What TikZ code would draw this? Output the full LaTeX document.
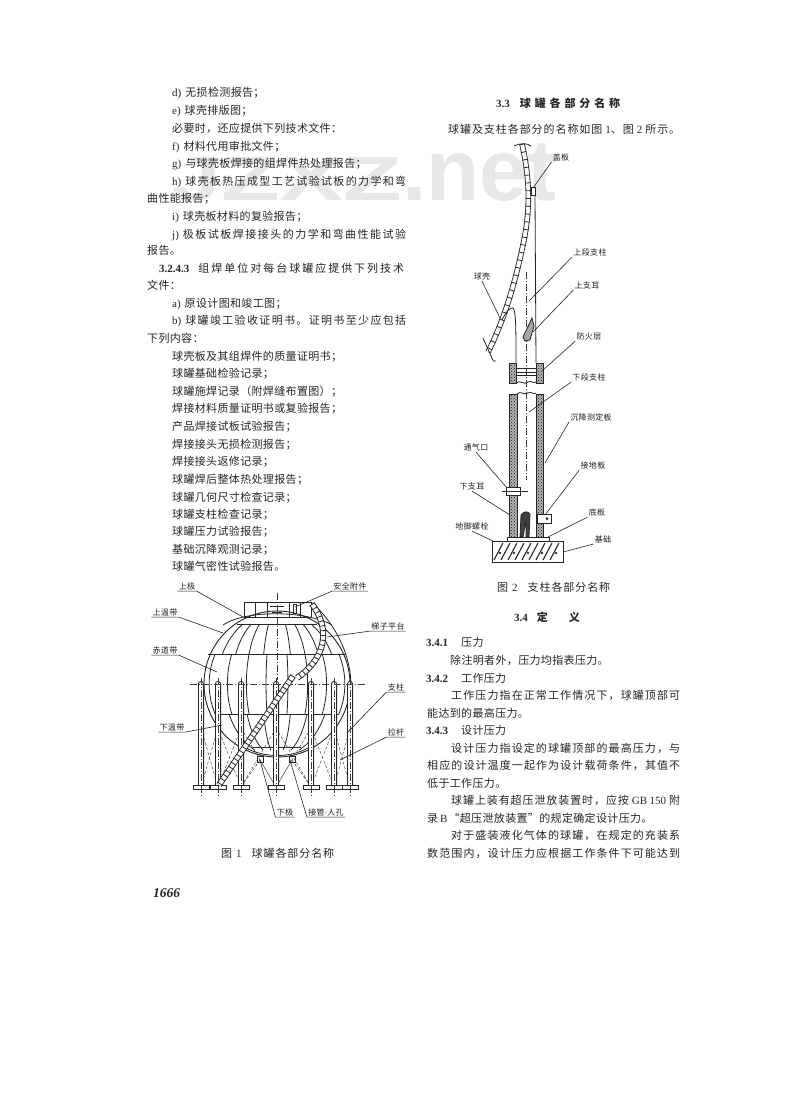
\documentclass[tikz,border=0pt]{standalone}
\usepackage{fontspec}
\setmainfont{Liberation Serif}
\newfontfamily\cjk{Noto Sans CJK SC}
\newfontfamily\wmfont{Liberation Sans}
\usetikzlibrary{positioning,patterns}
% spacing between Chinese characters, so that full lines can be set to width
\newcount\chcode
\chcode="4E00
\loop\ifnum\chcode<"9FFF \XeTeXcharclass\chcode=1 \advance\chcode by 1 \repeat
\XeTeXcharclass"FF0C=1 \XeTeXcharclass"FF1B=1 \XeTeXcharclass"FF1A=1
\XeTeXcharclass"3002=1 \XeTeXcharclass"3001=1 \XeTeXcharclass"FF08=1
\XeTeXcharclass"FF09=1 \XeTeXcharclass"201C=1 \XeTeXcharclass"201D=1
\XeTeXinterchartokenstate=1
\XeTeXinterchartoks 1 1 = {\hskip 0.35pt plus 3pt minus 0.3pt}
\newcommand{\lat}[1]{{\rmfamily #1}}
\newcommand{\latb}[1]{{\rmfamily\bfseries #1}}
\newcommand{\fitw}[2]{\makebox[#1pt][s]{#2}}

\begin{document}
\begin{tikzpicture}[x=1pt,y=-1pt,
    ln/.style={anchor=base west, inner sep=0pt, text=black!85,
               font=\cjk\fontsize{11}{12}\selectfont},
    hd/.style={ln, anchor=base, font=\cjk\bfseries\fontsize{11}{12}\selectfont},
    lb/.style={inner sep=1.2pt, text=black!88, font=\cjk\fontsize{8}{9}\selectfont},
    ldr/.style={line width=0.6pt, black!85},
    sk/.style={line width=0.8pt, black!85},
    cl/.style={line width=0.45pt, black!75, dash pattern=on 7pt off 2pt on 1pt off 2pt},
    rod/.style={line width=0.5pt, black!70, densely dashed},
    stip/.style={sk, preaction={fill=black!30}, pattern=crosshatch dots, pattern color=black!90},
    bandO/.style={line width=6pt, draw=black!85},
    bandW/.style={line width=4.2pt, draw=white},
    bandR/.style={line width=6pt, draw=black!85, dash pattern=on 0.8pt off 4pt},
    shO/.style={line width=5.5pt, draw=black!85},
    shW/.style={line width=3.8pt, draw=white},
    shR/.style={line width=5.5pt, draw=black!85, dash pattern=on 0.8pt off 7pt},
]
\useasboundingbox (0,0) rectangle (800,1093);
\fill[white] (0,0) rectangle (800,1093);

% === Watermark ===
\node[anchor=base east, inner sep=0pt, text=black!9,
      font=\wmfont\bfseries\fontsize{87}{90}\selectfont] (wmark) at (557,200)
      {\scalebox{1}[0.72]{J}\scalebox{1.1}[0.72]{ZXZ}.net};

% === Left column text ===
\node[ln] (tl1) at (172,96) {\lat{d)}\hspace{4pt}无损检测报告；};
\node[ln] (tl2) at (172,114) {\lat{e)}\hspace{4pt}球壳排版图；};
\node[ln] (tl3) at (172,132) {必要时，还应提供下列技术文件：};
\node[ln] (tl4) at (172,150) {\lat{f)}\hspace{4pt}材料代用审批文件；};
\node[ln] (tl5) at (172,167.5) {\lat{g)}\hspace{4pt}与球壳板焊接的组焊件热处理报告；};
\node[ln] (tl6) at (172,185) {\fitw{234}{\lat{h)}\hspace{4pt}球壳板热压成型工艺试验试板的力学和弯}};
\node[ln] (tl7) at (147,202) {曲性能报告；};
\node[ln] (tl8) at (172,220) {\lat{i)}\hspace{4pt}球壳板材料的复验报告；};
\node[ln] (tl9) at (172,238) {\fitw{234}{\lat{j)}\hspace{4pt}极板试板焊接接头的力学和弯曲性能试验}};
\node[ln] (tl10) at (147,254) {报告。};
\node[ln] (tl11) at (159,272) {\fitw{245}{\latb{3.2.4.3}\hspace{9pt}组焊单位对每台球罐应提供下列技术}};
\node[ln] (tl12) at (147,289) {文件：};
\node[ln] (tl13) at (172,307) {\lat{a)}\hspace{4pt}原设计图和竣工图；};
\node[ln] (tl14) at (172,324) {\fitw{234}{\lat{b)}\hspace{4pt}球罐竣工验收证明书。证明书至少应包括}};
\node[ln] (tl15) at (147,342) {下列内容：};
\node[ln] (tl16) at (172,360) {球壳板及其组焊件的质量证明书；};
\node[ln] (tl17) at (172,377) {球罐基础检验记录；};
\node[ln] (tl18) at (172,395) {球罐施焊记录（附焊缝布置图）；};
\node[ln] (tl19) at (172,412) {焊接材料质量证明书或复验报告；};
\node[ln] (tl20) at (172,430) {产品焊接试板试验报告；};
\node[ln] (tl21) at (172,448) {焊接接头无损检测报告；};
\node[ln] (tl22) at (172,465) {焊接接头返修记录；};
\node[ln] (tl23) at (172,483) {球罐焊后整体热处理报告；};
\node[ln] (tl24) at (172,501) {球罐几何尺寸检查记录；};
\node[ln] (tl25) at (172,518) {球罐支柱检查记录；};
\node[ln] (tl26) at (172,535) {球罐压力试验报告；};
\node[ln] (tl27) at (172,553) {基础沉降观测记录；};
\node[ln] (tl28) at (172,570) {球罐气密性试验报告。};

% === Right column text ===
\node[hd, anchor=base west] (tr1) at (496,107) {\fitw{124}{\latb{3.3}\hspace{10pt}球罐各部分名称}};
\node[ln] (tr2) at (448,133) {\fitw{232}{球罐及支柱各部分的名称如图\hspace{3pt}\lat{1}、图\hspace{3pt}\lat{2}\hspace{3pt}所示。}};
\node[ln] (cap2) at (497,591) {\fitw{113}{图\hspace{4pt}\lat{2}\hspace{10pt}支柱各部分名称}};
\node[hd, anchor=base west] (tr3) at (514,621) {\latb{3.4}\hspace{9pt}定\hspace{21pt}义};
\node[ln] (tr4) at (426,646) {\latb{3.4.1}\hspace{13pt}压力};
\node[ln] (tr5) at (450,664) {除注明者外，压力均指表压力。};
\node[ln] (tr6) at (426,682) {\latb{3.4.2}\hspace{13pt}工作压力};
\node[ln] (tr7) at (451,699) {\fitw{229}{工作压力指在正常工作情况下，球罐顶部可}};
\node[ln] (tr8) at (427,717) {能达到的最高压力。};
\node[ln] (tr9) at (426,734) {\latb{3.4.3}\hspace{13pt}设计压力};
\node[ln] (tr10) at (451,752) {\fitw{229}{设计压力指设定的球罐顶部的最高压力，与}};
\node[ln] (tr11) at (427,769) {\fitw{253}{相应的设计温度一起作为设计载荷条件，其值不}};
\node[ln] (tr12) at (427,787) {低于工作压力。};
\node[ln] (tr13) at (451,804) {\fitw{229}{球罐上装有超压泄放装置时，应按\hspace{3pt}\lat{GB\hspace{2.5pt}150}\hspace{3pt}附}};
\node[ln] (tr14) at (427,822) {录\hspace{2pt}\lat{B}\hspace{1pt}“超压泄放装置”的规定确定设计压力。};
\node[ln] (tr15) at (451,839) {\fitw{229}{对于盛装液化气体的球罐，在规定的充装系}};
\node[ln] (tr16) at (427,857) {\fitw{253}{数范围内，设计压力应根据工作条件下可能达到}};

% === Figure 1: platform and shell ===
\draw[sk] (244,602) rectangle (311,617);
\foreach \vx in {255,267,289,300} \draw[sk] (\vx,602) -- (\vx,617);
\draw[sk] (270,606) -- (284,606) (277,606) -- (277,612) (272,612) -- (282,612);
\draw[sk] (293,604) rectangle (296,613);
\draw[sk, line width=0.9pt] (277,684) circle (73);
\draw[sk] (223,625) .. controls (245,610) and (305,610) .. (332,625);
\draw[sk] (237,624) -- (317,624);
\draw[sk] (208,654) -- (346,654);
\draw[sk] (215,714) -- (339,714);
\draw[sk] (253,747) -- (301,747);
\draw[sk] (246,748) .. controls (265,758) and (290,758) .. (308,748);

% --- Meridians ---
\foreach \k in {-0.82,-0.62,-0.42,-0.2,0.2,0.42,0.62,0.82}
  \draw[sk] plot[domain=624:654, samples=8] ({277+\k*sqrt(5329-(\x-684)*(\x-684))},\x);
\foreach \k in {-0.93,-0.68,-0.42,-0.15,0.15,0.42,0.68,0.93}
  \draw[sk] plot[domain=654:714, samples=10] ({277+\k*sqrt(5329-(\x-684)*(\x-684))},\x);
\foreach \k in {-0.72,-0.45,-0.2,0.2,0.45,0.72}
  \draw[sk] plot[domain=714:750, samples=8] ({277+\k*sqrt(5329-(\x-684)*(\x-684))},\x);

% --- Tie rods ---
\foreach \ax/\bx in {201/218,218/241,241/276,276/311,311/334,334/350} {
  \draw[rod] (\ax,728) -- (\bx,787);
  \draw[rod] (\bx,728) -- (\ax,787);
}
\draw[rod] (260,760) -- (241,787) (260,760) -- (276,787);
\draw[rod] (292,760) -- (276,787) (292,760) -- (311,787);
\draw[sk] (257,756) rectangle (263,762);
\draw[sk] (289,756) rectangle (295,762);

% --- Columns ---
\foreach \cx in {201,218,241,276,311,334,350} {
  \draw[sk, fill=white] (\cx-2.6,787) -- (\cx-2.6,684) arc (180:360:2.6) -- (\cx+2.6,787);
  \draw[sk, fill=white] (\cx-8,785) rectangle (\cx+8,789);
  \draw[cl] (\cx,678) -- (\cx,798);
}
\draw[cl] (277,593) -- (277,680);
\draw[cl] (190,684) -- (367,684);

% --- Ladder ---
\draw[sk] (311,602) .. controls (332,620) and (350,650) .. (351,684);
\foreach \bs in {bandO,bandW,bandR} {
  \path[\bs] (312,604) .. controls (328,625) and (330,655) .. (297,678);
  \path[\bs] (293,676) -- (219,785);
}

% === Figure 1: labels ===
\node[lb] (nPoleU) at (187,586) {上极};
\node[lb] (nSafe) at (350,586) {安全附件};
\node[lb] (nTempU) at (165,612) {上温带};
\node[lb] (nPlat) at (388,626) {梯子平台};
\node[lb] (nEqu) at (165,650) {赤道带};
\node[lb] (nCol) at (396,687) {支柱};
\node[lb] (nRod) at (396,732) {拉杆};
\node[lb] (nTempL) at (172,727) {下温带};
\node[lb] (nPoleL) at (285,812) {下极};
\node[lb] (nPipe) at (326,812) {接管\lat{·}人孔};
\coordinate (ePoleU) at (243,617);
\coordinate (eSafe) at (295,607);
\coordinate (eTempU) at (223,633);
\coordinate (ePlat) at (327,637);
\coordinate (eEqu) at (217,672);
\coordinate (eCol) at (347,733);
\coordinate (eRod) at (340,760);
\coordinate (eTempL) at (222,725);
\coordinate (ePoleL) at (260,760);
\coordinate (ePipe) at (290,760);
\draw[ldr] (nPoleU.south west) -- (nPoleU.south east) -- (ePoleU);
\draw[ldr] (nSafe.south east) -- (nSafe.south west) -- (eSafe);
\draw[ldr] (nTempU.south west) -- (nTempU.south east) -- (eTempU);
\draw[ldr] (nPlat.south east) -- (nPlat.south west) -- (ePlat);
\draw[ldr] (nEqu.south west) -- (nEqu.south east) -- (eEqu);
\draw[ldr] (nCol.south east) -- (nCol.south west) -- (eCol);
\draw[ldr] (nRod.south east) -- (nRod.south west) -- (eRod);
\draw[ldr] (nTempL.south west) -- (nTempL.south east) -- (eTempL);
\draw[ldr] (nPoleL.south east) -- (nPoleL.south west) -- (ePoleL);
\draw[ldr] (nPipe.south east) -- (nPipe.south west) -- (ePipe);
\node[ln] (cap1) at (221,857) {\fitw{113}{图\hspace{4pt}\lat{1}\hspace{10pt}球罐各部分名称}};
\node[anchor=base west, inner sep=0pt, text=black!85,
      font=\rmfamily\bfseries\itshape\fontsize{13.5}{15}\selectfont] (pageno) at (153,897) {1666};

% === Figure 2: shell ===
\draw[sk] (514,146) .. controls (519,143) and (528,143) .. (531,146);
\foreach \bs in {shO,shW,shR}
  \path[\bs] (522,144) .. controls (529,175) and (531,205) .. (524,240)
     .. controls (518,270) and (507,315) .. (488,352);
\draw[sk] (483,338) -- (491,356) .. controls (493,362) and (495,362) .. (496,361);
\draw[sk] (502,320) .. controls (506,312) and (510,307) .. (513,308) .. controls (516,310) and (516,330) .. (516,363);
\draw[sk] (535,195) -- (536,363);
\draw[sk, fill=white] (531,187) rectangle (535,195);
\draw[cl] (526,272) -- (526,480);

% --- Upper lug ---
\draw[sk, fill=black!35] (532,318) -- (534,326) -- (530,340) -- (525,341) -- (523,337) -- cycle;

% --- Fire layer, upper piece ---
\draw[stip] (509,363) rectangle (516,383);
\draw[stip] (536,363) rectangle (543,383);
\foreach \hy in {368,372,375} \draw[sk] (516,\hy) -- (536,\hy);
\draw[sk] (516,383) .. controls (520,379) and (524,386) .. (528,382) .. controls (531,380) and (534,384) .. (536,382);
\draw[sk] (517,394) .. controls (521,390) and (524,396) .. (528,393) .. controls (531,391) and (534,395) .. (536,393);

% --- Lower column ---
\draw[stip] (509,394) rectangle (517,537);
\draw[stip] (536,394) rectangle (543,537);
\draw[sk, fill=black!75] (520,537) -- (521,515) .. controls (524,511) and (528,511) .. (530,514) -- (529,537) -- (526,537) -- (526,520) -- (523,537) -- cycle;
\draw[sk, fill=white] (506,487) rectangle (520,495);
\draw[sk] (502,491) -- (528,491);
\draw[sk, fill=white] (537,514) rectangle (551,523);
\fill[black!85] (547,518.5) circle (1.5);

% --- Base and foundation ---
\draw[sk, fill=white] (507,537) rectangle (549,541);
\draw[sk, line width=1pt] (492,541) rectangle (563,562);
\foreach \hx in {494,501,508,515,522,529,536,543,550}
  \draw[sk, line width=1.1pt] (\hx,560) -- (\hx+9,543);
\foreach \hx in {498,512,526,540,554} \fill[black!80] (\hx+2,553) circle (1.4);

% === Figure 2: labels ===
\node[lb] (nCover) at (561,157) {盖板};
\node[lb] (nUpper) at (590,252) {上段支柱};
\node[lb] (nLugU) at (587,285) {上支耳};
\node[lb] (nFire) at (589,336) {防火层};
\node[lb] (nShell) at (482,276) {球壳};
\node[lb] (nLower) at (589,377) {下段支柱};
\node[lb] (nSettle) at (591,417) {沉降测定板};
\node[lb] (nVent) at (476,447) {通气口};
\node[lb] (nEarth) at (593,465) {接地板};
\node[lb] (nLugL) at (472,486) {下支耳};
\node[lb] (nBase) at (597,512) {底板};
\node[lb] (nBolt) at (472,526) {地脚螺栓};
\node[lb] (nFound) at (603,539) {基础};
\coordinate (eCover) at (533,188);
\coordinate (eUpper) at (529,301);
\coordinate (eLugU) at (533,332);
\coordinate (eFire) at (542,371);
\coordinate (eShell) at (500,318);
\coordinate (eLower) at (529,412);
\coordinate (eSettle) at (545,463);
\coordinate (eVent) at (507,488);
\coordinate (eEarth) at (545,515);
\coordinate (eLugL) at (510,515);
\coordinate (eBase) at (548,537);
\coordinate (eBolt) at (493,541);
\coordinate (eFound) at (563,552);
\draw[ldr] (nCover.south west) -- (eCover);
\draw[ldr] (nUpper.south west) -- (eUpper);
\draw[ldr] (nLugU.south west) -- (eLugU);
\draw[ldr] (nFire.south west) -- (eFire);
\draw[ldr] (nShell.south) -- (eShell);
\draw[ldr] (nLower.south west) -- (eLower);
\draw[ldr] (nSettle.south west) -- (eSettle);
\draw[ldr] (nVent.south) -- (eVent);
\draw[ldr] (nEarth.south west) -- (eEarth);
\draw[ldr] (nLugL.south) -- (eLugL);
\draw[ldr] (nBase.south west) -- (eBase);
\draw[ldr] (nBolt.south) -- (eBolt);
\draw[ldr] (nFound.south west) -- (eFound);
\end{tikzpicture}
\end{document}
